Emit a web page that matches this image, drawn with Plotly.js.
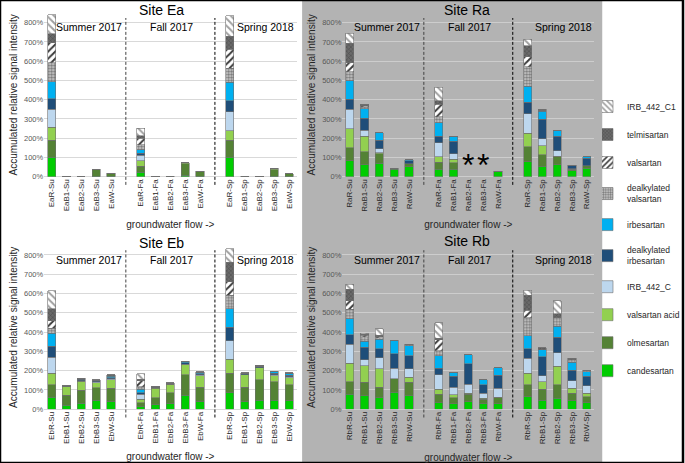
<!DOCTYPE html>
<html>
<head>
<meta charset="utf-8">
<script src="https://cdn.plot.ly/plotly-3.0.1.min.js"></script>
<style>
  html, body { margin: 0; padding: 0; background: #fff; }
  #chart { width: 685px; height: 463px; }
</style>
</head>
<body>
<div id="chart"></div>
<script>
// sample labels (R, B1, B2, B3, W for each season)
const samplesEa = ['EaR-Su','EaB1-Su','EaB2-Su','EaB3-Su','EaW-Su','EaR-Fa','EaB1-Fa','EaB2-Fa','EaB3-Fa','EaW-Fa','EaR-Sp','EaB1-Sp','EaB2-Sp','EaB3-Sp','EaW-Sp'];
const samplesRa = ['RaR-Su','RaB1-Su','RaB2-Su','RaB3-Su','RaW-Su','RaR-Fa','RaB1-Fa','RaB2-Fa','RaB3-Fa','RaW-Fa','RaR-Sp','RaB1-Sp','RaB2-Sp','RaB3-Sp','RaW-Sp'];
const samplesEb = ['EbR-Su','EbB1-Su','EbB2-Su','EbB3-Su','EbW-Su','EbR-Fa','EbB1-Fa','EbB2-Fa','EbB3-Fa','EbW-Fa','EbR-Sp','EbB1-Sp','EbB2-Sp','EbB3-Sp','EbW-Sp'];
const samplesRb = ['RbR-Su','RbB1-Su','RbB2-Su','RbB3-Su','RbW-Su','RbR-Fa','RbB1-Fa','RbB2-Fa','RbB3-Fa','RbW-Fa','RbR-Sp','RbB1-Sp','RbB2-Sp','RbB3-Sp','RbW-Sp'];

// compounds, stacked from bottom to top
const compounds = ['candesartan','olmesartan','valsartan acid','IRB_442_C','dealkylated<br>irbesartan','irbesartan','dealkylated<br>valsartan','valsartan','telmisartan','IRB_442_C1'];

const seasons = ['Summer 2017','Fall 2017','Spring 2018'];
const missingSamples = ['RaB2-Fa','RaB3-Fa'];

// Site Ea (%)
const eaCandesartan     = [100,0,0,2,2, 22,0,0,8,2, 100,0,0,3,2];
const eaOlmesartan      = [90,0,0,33,15, 32,0,2,60,25, 90,1,0,33,13];
const eaValsartanAcid   = [66,0,0,3,1, 30,0,0,5,1, 49,0,0,5,1];
const eaIrb442C         = [94,0,0,0,0, 28,0,0,0,0, 99,2,0,0,0];
const eaDealkIrbesartan = [55,0,0,0,0, 10,0,0,0,0, 57,0,0,0,0];
const eaIrbesartan      = [89,0,0,0,0, 18,0,0,0,0, 97,0,0,0,0];
const eaDealkValsartan  = [99,0,0,0,0, 25,0,0,0,0, 71,0,0,0,0];
const eaValsartan       = [103,0,0,0,0, 35,0,0,0,0, 98,0,0,0,0];
const eaTelmisartan     = [47,0,0,0,0, 12,0,0,0,0, 70,0,0,2,0];
const eaIrb442C1        = [99,0,0,0,0, 40,0,0,0,0, 104,0,0,0,0];

// Site Ra (%), RaB2-Fa and RaB3-Fa not sampled
const raCandesartan     = [83,62,69,38,52, 38,38,null,null,28, 78,52,61,31,43];
const raOlmesartan      = [68,68,49,3,14, 36,35,null,null,0, 78,61,43,7,14];
const raValsartanAcid   = [97,81,7,0,0, 30,17,null,null,0, 69,48,2,0,0];
const raIrb442C         = [102,31,19,0,0, 73,28,null,null,0, 101,35,29,3,0];
const raDealkIrbesartan = [52,61,46,2,16, 34,67,null,null,0, 60,102,76,17,38];
const raIrbesartan      = [97,49,39,0,5, 70,26,null,null,0, 85,43,31,2,8];
const raDealkValsartan  = [46,12,0,0,0, 31,0,null,null,0, 100,5,0,0,0];
const raValsartan       = [47,4,0,0,0, 65,0,null,null,0, 52,0,0,0,0];
const raTelmisartan     = [101,8,0,0,0, 18,0,null,null,0, 58,5,0,0,0];
const raIrb442C1        = [52,0,0,0,0, 69,0,null,null,0, 34,0,0,0,0];

// Site Eb (%)
const ebCandesartan     = [62,22,31,48,40, 14,24,28,74,40, 86,40,48,48,45];
const ebOlmesartan      = [64,52,67,64,69, 21,36,58,104,74, 101,74,104,95,81];
const ebValsartanAcid   = [61,43,47,26,43, 17,49,44,52,60, 72,64,64,31,38];
const ebIrb442C         = [83,0,3,4,5, 27,2,0,3,4, 97,2,0,4,4];
const ebDealkIrbesartan = [58,3,8,5,6, 7,3,4,7,7, 69,4,5,8,8];
const ebIrbesartan      = [66,3,3,4,8, 19,3,2,8,7, 97,3,3,9,10];
const ebDealkValsartan  = [26,0,0,0,4, 12,0,0,0,0, 70,0,0,0,0];
const ebValsartan       = [38,0,0,0,0, 31,0,0,0,0, 69,0,0,0,0];
const ebTelmisartan     = [62,0,2,1,3, 7,0,2,2,3, 101,2,3,3,3];
const ebIrb442C1        = [95,0,0,0,0, 28,0,0,0,0, 69,0,0,0,0];

// Site Rb (%)
const rbCandesartan     = [78,71,61,89,71, 35,30,40,30,30, 64,47,57,43,35];
const rbOlmesartan      = [66,68,52,68,68, 43,31,38,22,31, 63,57,70,39,29];
const rbValsartanAcid   = [94,87,96,0,26, 26,14,5,5,2, 59,39,96,26,18];
const rbIrb442C         = [98,30,57,57,44, 75,38,47,25,45, 78,31,69,40,40];
const rbDealkIrbesartan = [50,66,47,73,69, 33,57,105,45,69, 49,99,82,55,48];
const rbIrbesartan      = [84,31,49,70,52, 66,21,48,26,38, 68,35,57,40,25];
const rbDealkValsartan  = [48,24,8,0,5, 26,0,0,0,0, 94,0,44,13,5];
const rbValsartan       = [44,8,5,0,0, 56,0,0,0,0, 38,0,0,0,0];
const rbTelmisartan     = [61,5,10,0,3, 9,0,0,0,0, 77,10,21,8,3];
const rbIrb442C1        = [24,5,32,0,0, 80,0,0,0,0, 27,0,66,0,0];

const FONT = 'Liberation Sans, Arial, sans-serif';

const barStyles = [
    {color: '#00cc00'},
    {color: '#548235'},
    {color: '#92d050'},
    {color: '#bdd7ee'},
    {color: '#1f4e79'},
    {color: '#00b0f0'},
    {color: '#a6a6a6', pattern: {shape: '.', bgcolor: '#d0d0d0', fgcolor: '#777777', size: 3, solidity: 0.5}},
    {color: '#ffffff', pattern: {shape: '/', bgcolor: '#ffffff', fgcolor: '#3a3a3a', size: 5, solidity: 0.4}},
    {color: '#595959', pattern: {shape: 'x', bgcolor: '#6a6a6a', fgcolor: '#4a4a4a', size: 3, solidity: 0.3}},
    {color: '#f2f2f2', pattern: {shape: '\\', bgcolor: '#ffffff', fgcolor: '#a0a0a0', size: 5, solidity: 0.4}}
];

const panels = [
    {name: 'Site Ea', samples: samplesEa, xa: 'x',  ya: 'y',
     values: [eaCandesartan, eaOlmesartan, eaValsartanAcid, eaIrb442C, eaDealkIrbesartan, eaIrbesartan, eaDealkValsartan, eaValsartan, eaTelmisartan, eaIrb442C1]},
    {name: 'Site Ra', samples: samplesRa, xa: 'x2', ya: 'y2',
     values: [raCandesartan, raOlmesartan, raValsartanAcid, raIrb442C, raDealkIrbesartan, raIrbesartan, raDealkValsartan, raValsartan, raTelmisartan, raIrb442C1]},
    {name: 'Site Eb', samples: samplesEb, xa: 'x3', ya: 'y3',
     values: [ebCandesartan, ebOlmesartan, ebValsartanAcid, ebIrb442C, ebDealkIrbesartan, ebIrbesartan, ebDealkValsartan, ebValsartan, ebTelmisartan, ebIrb442C1]},
    {name: 'Site Rb', samples: samplesRb, xa: 'x4', ya: 'y4',
     values: [rbCandesartan, rbOlmesartan, rbValsartanAcid, rbIrb442C, rbDealkIrbesartan, rbIrbesartan, rbDealkValsartan, rbValsartan, rbTelmisartan, rbIrb442C1]}
];

// categories with an empty slot between the seasons
function withGaps(samples) {
    return samples.slice(0, 5).concat([' '], samples.slice(5, 10), ['  '], samples.slice(10));
}

let traces = [];
panels.forEach(function(p, pi) {
    compounds.forEach(function(c, i) {
        traces.push({
            type: 'bar',
            x: p.samples,
            y: p.values[i],
            xaxis: p.xa,
            yaxis: p.ya,
            name: c,
            legendgroup: c,
            legendrank: compounds.length - i,
            showlegend: pi === 0,
            width: 0.55,
            marker: Object.assign({line: {color: '#6f6f6f', width: 0.6}}, barStyles[i]),
            hoverinfo: 'skip'
        });
    });
});

const xLeft = [0.0647, 0.4342];
const xRight = [0.5012, 0.8701];
const yTop = [0.6184, 0.9717];
const yBottom = [0.116, 0.4702];

function xAxis(domain, anchor, samples) {
    return {
        domain: domain, anchor: anchor, type: 'category',
        categoryorder: 'array', categoryarray: withGaps(samples),
        tickangle: -90, ticks: '', showgrid: false, zeroline: false, showline: false,
        tickfont: {family: FONT, size: 8, color: '#262626'},
        title: {text: 'groundwater flow ->', font: {family: FONT, size: 10, color: '#262626'}, standoff: 10},
        fixedrange: true
    };
}
function yAxis(domain, anchor, grid) {
    return {
        domain: domain, anchor: anchor, range: [0, 850], dtick: 100, ticksuffix: '%',
        ticks: '', showline: false, gridcolor: grid, gridwidth: 1,
        zeroline: true, zerolinecolor: grid, zerolinewidth: 1,
        tickfont: {family: FONT, size: 7.5, color: '#595959'},
        title: {text: 'Accumulated relative signal intensity', font: {family: FONT, size: 10, color: '#262626'}, standoff: 4},
        fixedrange: true
    };
}

let annotations = [];
const titlePos = [[0.2365, 0.978], [0.6832, 0.978], [0.2365, 0.476], [0.6832, 0.479]];
const seasonX = [0.1786, 0.5045, 0.876];
panels.forEach(function(p, pi) {
    annotations.push({
        text: p.name, xref: 'paper', yref: 'paper', x: titlePos[pi][0], y: titlePos[pi][1],
        xanchor: 'center', yanchor: 'middle',
        showarrow: false, font: {family: FONT, size: 14, color: '#000'}
    });
    seasons.forEach(function(s, si) {
        annotations.push({
            text: s, xref: p.xa + ' domain', yref: p.ya + ' domain', x: seasonX[si], y: 0.912,
            xanchor: 'center', yanchor: 'middle',
            showarrow: false, font: {family: FONT, size: 10.5, color: '#000'}
        });
    });
});
missingSamples.forEach(function(s) {
    annotations.push({
        text: '*', xref: 'x2', yref: 'y2 domain', x: s, y: 0.03, yanchor: 'bottom', yshift: -13,
        xanchor: 'center', showarrow: false, font: {family: FONT, size: 32, color: '#000'}
    });
});

let shapes = [
    {type: 'rect', xref: 'paper', yref: 'paper', x0: 303 / 685, x1: 604 / 685, y0: 0, y1: 1,
     fillcolor: '#b3b3b3', line: {width: 0}, layer: 'below'}
];
panels.forEach(function(p) {
    [' ', '  '].forEach(function(g, gi) {
        shapes.push({
            type: 'line', xref: p.xa, yref: p.ya + ' domain', x0: g, x1: g, y0: -0.05, y1: 0.97,
            line: {color: gi === 0 ? '#404040' : '#000', width: 1, dash: '3px,2px'}
        });
    });
});
shapes.push({type: 'rect', xref: 'paper', yref: 'paper', x0: 0, x1: 1, y0: 0, y1: 1,
    line: {color: '#000', width: 2.5}, layer: 'above'});

const layout = {
    width: 685, height: 463,
    margin: {l: 0, r: 0, t: 0, b: 0},
    paper_bgcolor: '#ffffff', plot_bgcolor: 'rgba(0,0,0,0)',
    barmode: 'stack',
    font: {family: FONT},
    xaxis: xAxis(xLeft, 'y', samplesEa),
    yaxis: yAxis(yTop, 'x', '#d9d9d9'),
    xaxis2: xAxis(xRight, 'y2', samplesRa),
    yaxis2: yAxis(yTop, 'x2', '#cdcdcd'),
    xaxis3: xAxis(xLeft, 'y3', samplesEb),
    yaxis3: yAxis(yBottom, 'x3', '#d9d9d9'),
    xaxis4: xAxis(xRight, 'y4', samplesRb),
    yaxis4: yAxis(yBottom, 'x4', '#cdcdcd'),
    showlegend: true,
    legend: {
        x: 604 / 685, xanchor: 'left', y: 1 - 92 / 463, yanchor: 'top',
        traceorder: 'grouped', tracegroupgap: 9, indentation: -15,
        bgcolor: 'rgba(0,0,0,0)', borderwidth: 0,
        font: {family: FONT, size: 8.5, color: '#262626'}
    },
    annotations: annotations,
    shapes: shapes,
    hovermode: false
};

Plotly.newPlot('chart', traces, layout, {displayModeBar: false, staticPlot: true});
</script>
</body>
</html>
